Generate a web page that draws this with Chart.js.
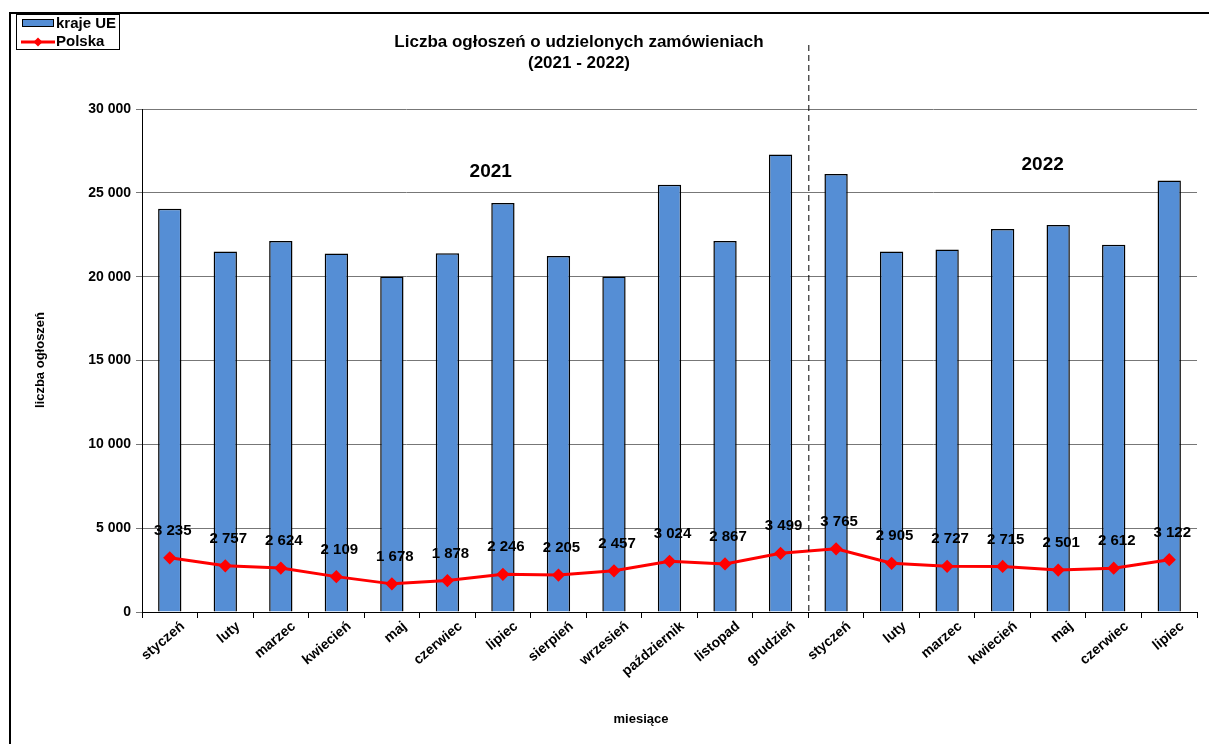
<!DOCTYPE html>
<html>
<head>
<meta charset="utf-8">
<script src="https://cdn.jsdelivr.net/npm/chart.js@4"></script>
<style>
html,body{margin:0;padding:0;background:#fff;}
#wrap{position:relative;width:1209px;height:744px;}
canvas{display:block;}
</style>
</head>
<body>
<div id="wrap"><canvas id="c" width="1209" height="744"></canvas></div>
<script>
const categories = ["styczeń","luty","marzec","kwiecień","maj","czerwiec","lipiec","sierpień","wrzesień","październik","listopad","grudzień","styczeń","luty","marzec","kwiecień","maj","czerwiec","lipiec"];
const krajeUE = [24050,21500,22120,21380,20010,21400,24390,21230,20010,25480,22130,27290,26120,21500,21620,22850,23080,21910,25730];
const polska = [3235,2757,2624,2109,1678,1878,2246,2205,2457,3024,2867,3499,3765,2905,2727,2715,2501,2612,3122];
const yTicks = [0,5000,10000,15000,20000,25000,30000];
const seriesNames = ["kraje UE","Polska"];
const titleLines = ["Liczba ogłoszeń o udzielonych zamówieniach","(2021 - 2022)"];
const yearLabels = ["2021","2022"];
const axisTitles = {x:"miesiące", y:"liczba ogłoszeń"};

const FONT = 'Arial, "Liberation Sans", sans-serif';
const BLUE = '#558ED5';
const RED = '#FF0000';
function fmt(v){ return String(v).replace(/\B(?=(\d{3})+(?!\d))/g,' '); }

const decor = {
  id:'decor',
  beforeDraw(chart){
    const ctx = chart.ctx;
    ctx.save();
    ctx.fillStyle='#fff';
    ctx.fillRect(0,0,chart.width,chart.height);
    ctx.restore();
  },
  afterDatasetsDraw(chart){
    const ctx = chart.ctx;
    const x = chart.scales.x, y = chart.scales.y;
    ctx.save();
    // data labels for Polska
    const meta = chart.getDatasetMeta(1);
    ctx.font = 'bold 15px '+FONT;
    ctx.fillStyle = '#000';
    ctx.textAlign='center';
    ctx.textBaseline='middle';
    meta.data.forEach((pt,i)=>{
      ctx.fillText(fmt(polska[i]), pt.x+3, pt.y-27);
    });
    // dashed separator between 2021 and 2022
    const sx = (x.getPixelForValue(11)+x.getPixelForValue(12))/2;
    ctx.strokeStyle='#000';
    ctx.lineWidth=1;
    ctx.setLineDash([6,4]);
    ctx.beginPath();
    ctx.moveTo(sx+0.5,45);
    ctx.lineTo(sx+0.5,y.bottom);
    ctx.stroke();
    ctx.setLineDash([]);
    // year labels
    ctx.font='bold 19px '+FONT;
    const step = x.getPixelForValue(1)-x.getPixelForValue(0);
    ctx.fillText(yearLabels[0], x.getPixelForValue(5)+0.78*step, 172);
    ctx.fillText(yearLabels[1], x.getPixelForValue(15)+0.72*step, 165);
    // title
    ctx.font='bold 17px '+FONT;
    ctx.fillText(titleLines[0], 579, 42);
    ctx.fillText(titleLines[1], 579, 63);
    // axis titles
    ctx.font='bold 13px '+FONT;
    ctx.fillText(axisTitles.x, 641, 719);
    ctx.save();
    ctx.translate(40,360);
    ctx.rotate(-Math.PI/2);
    ctx.fillText(axisTitles.y,0,0);
    ctx.restore();
    // outer frame
    ctx.fillStyle='#000';
    ctx.fillRect(9,12,chart.width-9,2);
    ctx.fillRect(9,12,2,chart.height-12);
    // legend
    ctx.fillStyle='#fff';
    ctx.fillRect(16,14,104,36);
    ctx.strokeStyle='#000';
    ctx.lineWidth=1;
    ctx.strokeRect(16.5,14.5,103,35);
    ctx.fillStyle=BLUE;
    ctx.fillRect(22,19,32,8);
    ctx.strokeRect(22.5,19.5,31,7);
    ctx.strokeStyle=RED;
    ctx.lineWidth=3;
    ctx.beginPath(); ctx.moveTo(21,42); ctx.lineTo(55,42); ctx.stroke();
    ctx.fillStyle=RED;
    ctx.beginPath(); ctx.moveTo(38,37.5); ctx.lineTo(42.5,42); ctx.lineTo(38,46.5); ctx.lineTo(33.5,42); ctx.closePath(); ctx.fill();
    ctx.fillStyle='#000';
    ctx.textAlign='left';
    ctx.font='bold 15px '+FONT;
    ctx.fillText(seriesNames[0], 56, 24);
    ctx.fillText(seriesNames[1], 56, 42);
    ctx.restore();
  }
};

new Chart(document.getElementById('c'), {
  data:{
    labels:categories,
    datasets:[
      {type:'bar', label:seriesNames[0], data:krajeUE, backgroundColor:BLUE, borderColor:'#000', borderWidth:1.5, borderSkipped:'bottom', categoryPercentage:1, barPercentage:0.42, order:2},
      {type:'line', label:seriesNames[1], data:polska, borderColor:RED, backgroundColor:RED, borderWidth:3, pointStyle:'rectRot', pointRadius:4.5, pointHoverRadius:4.5, pointBackgroundColor:RED, pointBorderColor:RED, tension:0, order:1}
    ]
  },
  options:{
    responsive:false,
    animation:false,
    devicePixelRatio:1,
    layout:{padding:{top:109,right:12,left:0,bottom:0}},
    plugins:{legend:{display:false}, title:{display:false}, tooltip:{enabled:false}},
    scales:{
      x:{
        offset:true,
        grid:{display:true, drawOnChartArea:false, drawTicks:true, tickLength:6, color:'#000', offset:true},
        border:{display:true,color:'#000',width:1},
        ticks:{minRotation:40,maxRotation:40,autoSkip:false,color:'#000',font:{family:FONT,weight:'bold',size:14},padding:0,labelOffset:13},
        afterFit(s){ s.height = 132; }
      },
      y:{
        min:0,max:30000,
        afterBuildTicks(s){ s.ticks = yTicks.map(v=>({value:v})); },
        grid:{color:'#777',lineWidth:1,tickLength:6,tickColor:'#777'},
        border:{display:true,color:'#000',width:1,dash:[]},
        ticks:{color:'#000',font:{family:FONT,weight:'bold',size:14},padding:5,callback:v=>fmt(v)},
        afterFit(s){ s.width = 142; }
      }
    }
  },
  plugins:[decor]
});
</script>
</body>
</html>
